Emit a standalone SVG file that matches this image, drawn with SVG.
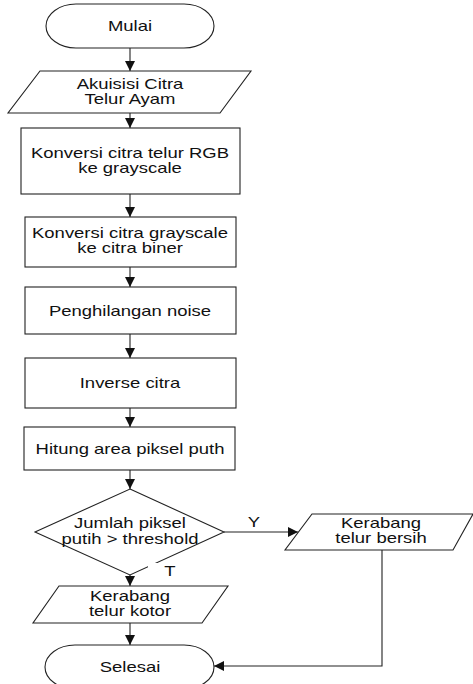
<svg xmlns="http://www.w3.org/2000/svg" width="473" height="684" viewBox="0 0 473 684">
<defs>
<marker id="ah" viewBox="0 0 10 10" refX="10" refY="5" markerWidth="10" markerHeight="10" markerUnits="userSpaceOnUse" orient="auto">
<path d="M0,0 L10,5 L0,10 Z" fill="#111"/>
</marker>
<style>
.s{fill:#fff;stroke:#222;stroke-width:1.1}
.c{fill:none;stroke:#222;stroke-width:1.1;marker-end:url(#ah)}
.l{fill:none;stroke:#222;stroke-width:1.1}
.t{font-family:"Liberation Sans",Arial,sans-serif;font-size:14px;fill:#111;text-anchor:middle}
</style>
</defs>
<rect width="473" height="684" fill="#fff"/>
<g id="connectors">
<line class="c" x1="130" y1="48" x2="130" y2="71"/>
<line class="c" x1="130" y1="113" x2="130" y2="128"/>
<line class="c" x1="130" y1="194" x2="130" y2="217"/>
<line class="c" x1="130" y1="267" x2="130" y2="287"/>
<line class="c" x1="130" y1="334" x2="130" y2="358"/>
<line class="c" x1="130" y1="408" x2="130" y2="427"/>
<line class="c" x1="130" y1="470" x2="130" y2="489"/>
<line class="c" x1="224" y1="532" x2="298" y2="532"/>
<line class="c" x1="130" y1="575" x2="130" y2="586"/>
<line class="c" x1="130" y1="623" x2="130" y2="645"/>
<polyline class="c" points="382,550 382,666 214,666"/>
</g>
<g id="mulai">
<rect class="s" x="46" y="4" width="168" height="44" rx="30" ry="22"/>
<text class="t" transform="translate(130,31) scale(1.32,1)">Mulai</text>
</g>
<g id="akuisisi">
<polygon class="s" points="40,71 251,71 220,113 8,113"/>
<text class="t" transform="translate(130,89) scale(1.32,1)"><tspan x="0" y="0">Akuisisi Citra</tspan><tspan x="0" y="15">Telur Ayam</tspan></text>
</g>
<g id="konversi-rgb">
<rect class="s" x="21" y="128" width="219" height="66"/>
<text class="t" transform="translate(130,158) scale(1.32,1)"><tspan x="0" y="0">Konversi citra telur RGB</tspan><tspan x="0" y="15">ke grayscale</tspan></text>
</g>
<g id="konversi-biner">
<rect class="s" x="25" y="217" width="211" height="50"/>
<text class="t" transform="translate(130,238) scale(1.32,1)"><tspan x="0" y="0">Konversi citra grayscale</tspan><tspan x="0" y="15">ke citra biner</tspan></text>
</g>
<g id="noise">
<rect class="s" x="25" y="287" width="211" height="47"/>
<text class="t" transform="translate(130,315.5) scale(1.32,1)">Penghilangan noise</text>
</g>
<g id="inverse">
<rect class="s" x="25" y="358" width="211" height="50"/>
<text class="t" transform="translate(130,388) scale(1.32,1)">Inverse citra</text>
</g>
<g id="hitung">
<rect class="s" x="24" y="427" width="211" height="43"/>
<text class="t" transform="translate(130,453.5) scale(1.32,1)">Hitung area piksel puth</text>
</g>
<g id="decision">
<polygon class="s" points="130,489 224,532 130,575 35,532"/>
<text class="t" transform="translate(130,528) scale(1.32,1)"><tspan x="0" y="0">Jumlah piksel</tspan><tspan x="0" y="16">putih &gt; threshold</tspan></text>
<text class="t" transform="translate(254,527) scale(1.32,1)">Y</text>
<rect x="148" y="563" width="40" height="19" fill="#fff"/>
<text class="t" transform="translate(170,576) scale(1.32,1)">T</text>
</g>
<g id="bersih">
<polygon class="s" points="312,514 473,514 453,550 285,550"/>
<text class="t" transform="translate(381,528) scale(1.32,1)"><tspan x="0" y="0">Kerabang</tspan><tspan x="0" y="15">telur bersih</tspan></text>
</g>
<g id="kotor">
<polygon class="s" points="59,586 228,586 202,623 33,623"/>
<text class="t" transform="translate(130,601) scale(1.32,1)"><tspan x="0" y="0">Kerabang</tspan><tspan x="0" y="15">telur kotor</tspan></text>
</g>
<g id="selesai">
<rect class="s" x="45" y="645" width="169" height="44" rx="30" ry="22"/>
<text class="t" transform="translate(130,672) scale(1.32,1)">Selesai</text>
</g>
</svg>
